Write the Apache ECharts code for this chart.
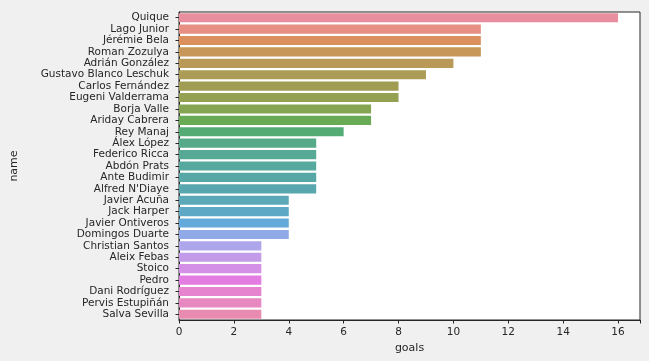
<!DOCTYPE html>
<html><head><meta charset="utf-8">
<script src="https://cdn.jsdelivr.net/npm/echarts@6/dist/echarts.min.js"></script>
<style>html,body{margin:0;padding:0;background:#f0f0f0}#c{width:649px;height:361px}</style>
</head><body><div id="c"></div>
<script>
const names = ["Quique","Lago Junior","Jérémie Bela","Roman Zozulya","Adrián González","Gustavo Blanco Leschuk","Carlos Fernández","Eugeni Valderrama","Borja Valle","Ariday Cabrera","Rey Manaj","Álex López","Federico Ricca","Abdón Prats","Ante Budimir","Alfred N'Diaye","Javier Acuña","Jack Harper","Javier Ontiveros","Domingos Duarte","Christian Santos","Aleix Febas","Stoico","Pedro","Dani Rodríguez","Pervis Estupiñán","Salva Sevilla"];
const goals = [16,11,11,11,10,9,8,8,7,7,6,5,5,5,5,5,4,4,4,4,3,3,3,3,3,3,3];
const xTicks = [0,2,4,6,8,10,12,14,16];

// seaborn husl palette (desaturated 0.75)
const M=[[3.2406,-1.5372,-0.4986],[-0.9689,1.8758,0.0415],[0.0557,-0.2040,1.0570]];
const refU=0.19784, refV=0.46834, labE=0.008856, labK=903.3;
function maxChroma(L,H){const hr=H/360*2*Math.PI,s=Math.sin(hr),c=Math.cos(hr);
 const sub1=Math.pow(L+16,3)/1560896; const sub2=sub1>labE?sub1:L/labK; let r=Infinity;
 for(const [m1,m2,m3] of M){const top=(0.99915*m1+1.05122*m2+1.14460*m3)*sub2;
  const rb=0.86330*m3-0.17266*m2, lb=0.12949*m3-0.38848*m1; const bot=(rb*s+lb*c)*sub2;
  for(const t of [0,1]){const C=L*(top-1.05122*t)/(bot+0.17266*s*t); if(C>0&&C<r)r=C;}}
 return r;}
function fInv(t){return Math.pow(t,3)>labE?Math.pow(t,3):(116*t-16)/labK;}
function fromLin(c){return c<=0.0031308?12.92*c:1.055*Math.pow(c,1/2.4)-0.055;}
function husl(H,S,L){const C=maxChroma(L,H)/100*S; const hr=H/360*2*Math.PI;
 const U=Math.cos(hr)*C,V=Math.sin(hr)*C; const vY=fInv((L+16)/116); const vU=U/(13*L)+refU, vV=V/(13*L)+refV;
 const Y=vY; const X=-(9*Y*vU)/((vU-4)*vV-vU*vV); const Z=(9*Y-15*vV*Y-vV*X)/(3*vV);
 return M.map(r=>Math.min(1,Math.max(0,fromLin(r[0]*X+r[1]*Y+r[2]*Z))));}
function rgb2hls(r,g,b){const mx=Math.max(r,g,b),mn=Math.min(r,g,b);const l=(mx+mn)/2;if(mx===mn)return[0,l,0];
 const d=mx-mn;const s=l<=0.5?d/(mx+mn):d/(2-mx-mn);let h;
 if(mx===r)h=((g-b)/d)%6;else if(mx===g)h=(b-r)/d+2;else h=(r-g)/d+4;h/=6;if(h<0)h+=1;return[h,l,s];}
function hls2rgb(h,l,s){if(s===0)return[l,l,l];const m2=l<=0.5?l*(1+s):l+s-l*s,m1=2*l-m2;
 const v=(hh)=>{hh=((hh%1)+1)%1;if(hh<1/6)return m1+(m2-m1)*hh*6;if(hh<0.5)return m2;if(hh<2/3)return m1+(m2-m1)*(2/3-hh)*6;return m1;};
 return[v(h+1/3),v(h),v(h-1/3)];}
const n=names.length;
const colors=[];
for(let i=0;i<n;i++){let h=(i/n+0.01)%1*359;const [r,g,b]=husl(h,0.9*99,0.65*99);
 const [hh,ll,ss]=rgb2hls(r,g,b);const c=hls2rgb(hh,ll,ss*0.75);
 colors.push('rgb('+c.map(x=>Math.round((x*0.9+0.1)*255)).join(',')+')');}

const chart=echarts.init(document.getElementById('c'),null,{renderer:'canvas'});
const font='DejaVu Sans';
chart.setOption({
 backgroundColor:'#f0f0f0',
 animation:false,
 grid:{left:179,right:9,top:12,bottom:41,show:true,backgroundColor:'#ffffff',borderColor:'#262626',borderWidth:1},
 xAxis:{type:'value',min:0,max:16.8,interval:2,
  name:'goals',nameLocation:'middle',nameGap:23,nameTextStyle:{fontFamily:font,fontSize:11,color:'#262626'},
  axisLine:{show:true,lineStyle:{color:'#262626'}},axisTick:{show:true,length:3.5,lineStyle:{color:'#262626'}},
  splitLine:{show:false},
  axisLabel:{fontFamily:font,fontSize:10.5,color:'#262626',margin:7,formatter:v=>xTicks.includes(v)?String(v):''}},
 yAxis:{type:'category',data:names,inverse:true,
  name:'name',nameLocation:'middle',nameGap:159,nameRotate:90,nameTextStyle:{fontFamily:font,fontSize:11,color:'#262626'},
  axisLine:{show:true,lineStyle:{color:'#262626'}},axisTick:{show:true,length:3.5,alignWithLabel:true,interval:0,lineStyle:{color:'#262626'}},
  axisLabel:{fontFamily:font,fontSize:10.5,color:'#262626',margin:10,interval:0}},
 series:[{type:'bar',data:goals.map((v,i)=>({value:v,itemStyle:{color:colors[i]}})),barCategoryGap:'20%'}]
});
</script></body></html>
